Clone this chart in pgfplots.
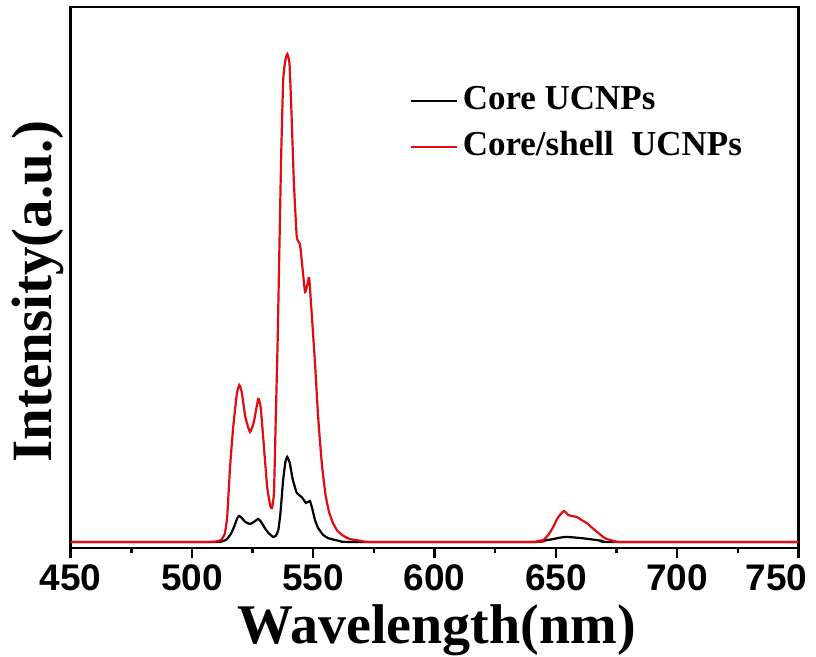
\documentclass[border=0pt]{standalone}
\usepackage{pgfplots}
\pgfplotsset{compat=1.18}
\usepackage{fontspec}
\setmainfont{Liberation Serif}
\newfontfamily\arialfont{Liberation Sans}
\definecolor{shellred}{RGB}{225,12,16}

\begin{document}
\begin{tikzpicture}
\begin{axis}[name=ax,
  scale only axis, width=364pt, height=270.5pt,
  xmin=450, xmax=750, ymin=-6, ymax=535,
  xtick={450,500,...,750}, minor x tick num=1,
  xticklabels={450,500,550,600,650,700,\hspace*{-22pt}750},
  ytick=\empty, xtick pos=bottom, tick align=outside,
  major tick length=5pt, minor tick length=2.5pt,
  every tick/.style={black, line width=1.2pt},
  axis line style={line width=1.3pt},
  /pgf/number format/assume math mode=true,
  xticklabel style={font=\arialfont\bfseries\fontsize{18.5}{20}\selectfont},
  xlabel={Wavelength(nm)},
  xlabel style={at={(axis description cs:0.5,0)}, anchor=base, yshift=-48pt, xshift=1pt,
    font=\bfseries\fontsize{28}{30}\selectfont},
  ylabel={Intensity(a.u.)},
  ylabel style={at={(axis description cs:0,0.474)}, anchor=center, yshift=16.6pt,
    font=\bfseries\fontsize{28.5}{30}\selectfont},
  legend style={at={(axis description cs:0.4648,0.856)}, anchor=north west,
    draw=none, fill=none, inner sep=0pt, row sep=7pt, column sep=2.5pt,
    font=\bfseries\fontsize{17.5}{21}\selectfont,
    nodes={inner sep=0pt, text height=12pt, text depth=4pt}},
  legend cell align=left,
  legend image code/.code={\draw[#1, line width=1.2pt] (0pt,0pt) -- (23pt,0pt);},
  clip=false,
]
\addplot[black, line width=1.1pt, smooth, tension=0.3] coordinates {
(450,0) (508,0) (512,0.5) (514,2) (516,8) (517.5,16) (518.7,24) (519.5,26)
(520.5,24) (522,20) (523.9,18) (525.5,20) (527.3,23) (528.5,20) (530,14)
(531.5,9) (533.5,5) (534.5,6) (535.6,12) (536.5,30) (537.5,60) (538.5,80)
(539.3,85) (540.3,79) (541.5,63) (543.2,49) (545.2,45) (547,39) (548.6,41)
(549.5,34) (550.7,22) (552,14) (554.1,7) (556,4) (558,2.5) (561,1) (566,0)
(640,0) (644,1) (648,2.5) (651,4) (653.7,5) (656,4.8) (660,4) (665,2.5)
(669,1.2) (673,0) (750,0)
};
\addlegendentry{Core UCNPs}
\addplot[shellred, line width=1.1pt, smooth, tension=0.3] coordinates {
(450,0) (505,0) (510,0.5) (512,2) (513.5,8) (514.5,25) (515.7,75) (517,115)
(518.5,148) (519.5,157) (520.5,150) (522,125) (523.9,110) (525.5,120)
(527.3,143) (528.3,135) (529.5,100) (531,55) (532.3,36) (533,34) (533.8,50)
(534.5,120) (535.3,200) (536,290) (536.8,390) (537.6,462) (538.5,482)
(539.3,488) (540.2,478) (541,430) (542,360) (543.2,305) (544.5,298)
(545.5,275) (546.6,250) (547.5,257) (548.3,264) (549.3,230) (550.7,179)
(552,125) (553.5,79) (555,48) (556.5,30) (558.1,19) (560,11) (562.5,6)
(565,3) (570,1) (575,0) (640,0) (643,1) (644.8,2) (646.9,7) (648.9,15)
(650.5,23) (652,28) (653.3,31) (654.3,29) (655.1,27) (656.5,26) (658.6,25)
(660.5,22) (662.7,19) (665,14) (667.5,9) (669.5,5) (671,3) (674,1) (678,0)
(750,0)
};
\addlegendentry{Core/shell\ \ UCNPs}
\end{axis}
\pgfresetboundingbox
\path ([xshift=-35.35pt,yshift=-54.5pt]ax.south west) rectangle ([xshift=8.75pt,yshift=3.5pt]ax.north east);
\end{tikzpicture}
\end{document}
